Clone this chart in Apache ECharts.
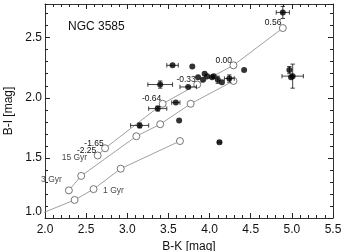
<!DOCTYPE html>
<html><head><meta charset="utf-8">
<script src="https://cdn.jsdelivr.net/npm/echarts@6/dist/echarts.min.js"></script>
<style>html,body{margin:0;padding:0;background:#fff}#c{width:351px;height:251px}</style>
</head><body><div id="c"></div>
<script>
// Model tracks (SSP), B-K and B-I
const age15X = [2.64, 2.73, 3.43, 3.85, 4.29, 4.89];
const age15Y = [1.52, 1.58, 1.95, 2.11, 2.27, 2.58];
const metalLabels = ['-2.25', '-1.65', '-0.64', '-0.33', '0.00', '0.56'];
const age3X = [2.29, 2.44, 3.11, 3.40, 3.77, 4.29];
const age3Y = [1.23, 1.35, 1.68, 1.78, 1.95, 2.14];
const age1X = [1.82, 2.36, 2.59, 2.92, 3.64];
const age1Y = [1.00, 1.15, 1.24, 1.41, 1.64];
const ageNames = ['15 Gyr', '3 Gyr', '1 Gyr'];
const ageLabelIdx = [0, 0, 2];
// Globular clusters
const gcX = [4.89, 3.55, 3.79, 3.40, 3.59, 3.37, 3.15, 3.63, 4.42, 3.86, 3.94, 3.97, 3.92, 4.03, 4.05, 4.10, 4.15, 4.24, 3.74, 4.97, 4.99, 5.01, 4.12];
const gcY = [2.71, 2.27, 2.26, 2.11, 1.96, 1.91, 1.77, 1.81, 2.23, 2.17, 2.20, 2.18, 2.15, 2.17, 2.18, 2.15, 2.13, 2.16, 2.09, 2.23, 2.17, 2.18, 1.63];
const gcErrX = [0.08, 0.07, 0, 0.15, 0.05, 0.11, 0.11, 0, 0, 0, 0, 0, 0, 0, 0, 0, 0, 0.06, 0.10, 0, 0, 0.13, 0.02];
const gcErrY = [0.05, 0, 0, 0.03, 0, 0.02, 0.02, 0, 0, 0, 0, 0, 0, 0, 0, 0.03, 0, 0.03, 0, 0.03, 0, 0.10, 0];
const xTitle = 'B-K [mag]';
const yTitle = 'B-I [mag]';
const chartTitle = 'NGC 3585';

const FONT = 'Liberation Sans, Arial, Helvetica, sans-serif';
const AX = '#222';
const zip = (a, b) => a.map((v, i) => [v, b[i]]);
const models = [zip(age15X, age15Y), zip(age3X, age3Y), zip(age1X, age1Y)];

function modelSeries(data, withMetal) {
  return {
    type: 'line', data: data, clip: true, z: 3,
    symbol: 'circle', symbolSize: 7, showAllSymbol: true,
    lineStyle: { color: '#888', width: 0.8 },
    itemStyle: { color: '#fff', borderColor: '#555', borderWidth: 0.8 },
    label: withMetal ? {
      show: true, position: 'left', distance: 0, offset: [2.5, -5],
      formatter: p => metalLabels[p.dataIndex],
      fontFamily: FONT, fontSize: 8.5, color: '#111'
    } : { show: false },
    emphasis: { disabled: true }, silent: true
  };
}
const ageLabelPos = [
  { position: 'left', distance: 10, offset: [0, 2] },
  { position: 'left', distance: 6.5, offset: [0, -10.5] },
  { position: 'right', distance: 9, offset: [0, 2] }
];
const ageLabelSeries = {
  type: 'scatter', symbolSize: 1, itemStyle: { color: 'rgba(0,0,0,0)' }, z: 4, silent: true,
  data: models.map((m, i) => ({
    value: m[ageLabelIdx[i]],
    label: Object.assign({ show: true, formatter: ageNames[i], fontFamily: FONT, fontSize: 8.5, color: '#111' }, ageLabelPos[i])
  }))
};

const errSeries = {
  type: 'custom', z: 5, silent: true,
  data: gcX.map((x, i) => [x, gcY[i], gcErrX[i], gcErrY[i]]),
  renderItem: function (params, api) {
    const x = api.value(0), y = api.value(1), ex = api.value(2), ey = api.value(3);
    const st = { stroke: '#111', lineWidth: 0.8 };
    const kids = [];
    const cap = 2.2;
    if (ex > 0) {
      const a = api.coord([x - ex, y]), b = api.coord([x + ex, y]);
      kids.push({ type: 'line', shape: { x1: a[0], y1: a[1], x2: b[0], y2: b[1] }, style: st });
      kids.push({ type: 'line', shape: { x1: a[0], y1: a[1] - cap, x2: a[0], y2: a[1] + cap }, style: st });
      kids.push({ type: 'line', shape: { x1: b[0], y1: b[1] - cap, x2: b[0], y2: b[1] + cap }, style: st });
    }
    if (ey > 0) {
      const a = api.coord([x, y - ey]), b = api.coord([x, y + ey]);
      kids.push({ type: 'line', shape: { x1: a[0], y1: a[1], x2: b[0], y2: b[1] }, style: st });
      kids.push({ type: 'line', shape: { x1: a[0] - cap, y1: a[1], x2: a[0] + cap, y2: a[1] }, style: st });
      kids.push({ type: 'line', shape: { x1: b[0] - cap, y1: b[1], x2: b[0] + cap, y2: b[1] }, style: st });
    }
    return { type: 'group', children: kids };
  }
};

const xBase = {
  type: 'value', min: 2.0, max: 5.5, interval: 0.5,
  axisLine: { show: true, lineStyle: { color: '#333', width: 1 } },
  axisTick: { show: true, inside: true, length: 5, lineStyle: { color: AX, width: 1 } },
  minorTick: { show: true, splitNumber: 5, length: 3, lineStyle: { color: AX, width: 1 } },
  splitLine: { show: false }, minorSplitLine: { show: false }
};
const yMajor = {
  type: 'value', min: 1.0, max: 2.78, interval: 0.5,
  axisLine: { show: true, lineStyle: { color: '#333', width: 1 } },
  axisTick: { show: true, inside: true, length: 5, lineStyle: { color: AX, width: 1 } },
  splitLine: { show: false }
};
const yMinor = {
  type: 'value', min: 1.0, max: 2.78, interval: 0.1,
  axisLine: { show: false },
  axisTick: { show: true, inside: true, length: 3, lineStyle: { color: AX, width: 1 } },
  axisLabel: { show: false },
  splitLine: { show: false }
};

const chart = echarts.init(document.getElementById('c'), null, { renderer: 'canvas' });
chart.setOption({
  animation: false,
  backgroundColor: '#fff',
  grid: { left: 45, right: 18, top: 4, bottom: 33, containLabel: false, outerBoundsMode: 'none' },
  title: {
    text: chartTitle, left: 63, top: 16,
    textStyle: { fontFamily: FONT, fontSize: 12, fontWeight: 'normal', color: '#111' }
  },
  xAxis: [
    Object.assign({}, xBase, {
      position: 'bottom', name: xTitle, nameLocation: 'middle', nameGap: 19,
      nameTextStyle: { fontFamily: FONT, fontSize: 12, color: '#111' },
      axisLabel: { show: true, margin: 6, formatter: v => v.toFixed(1), fontFamily: FONT, fontSize: 12, color: '#111' }
    }),
    Object.assign({}, xBase, { position: 'top', axisLabel: { show: false } })
  ],
  yAxis: [
    Object.assign({}, yMajor, {
      position: 'left', name: yTitle, nameLocation: 'middle', nameGap: 29,
      nameTextStyle: { fontFamily: FONT, fontSize: 12, color: '#111' },
      axisLabel: { show: true, margin: 3, showMaxLabel: false, verticalAlignMinLabel: 'bottom',
        formatter: v => v.toFixed(1), fontFamily: FONT, fontSize: 12, color: '#111' }
    }),
    Object.assign({}, yMinor, { position: 'left' }),
    Object.assign({}, yMajor, { position: 'right', axisLabel: { show: false } }),
    Object.assign({}, yMinor, { position: 'right' })
  ],
  series: [
    modelSeries(models[0], true),
    modelSeries(models[1], false),
    modelSeries(models[2], false),
    ageLabelSeries,
    errSeries,
    {
      type: 'scatter', z: 6, silent: true,
      data: zip(gcX, gcY), symbol: 'circle', symbolSize: 6,
      itemStyle: { color: '#000' }
    }
  ]
});
</script></body></html>
